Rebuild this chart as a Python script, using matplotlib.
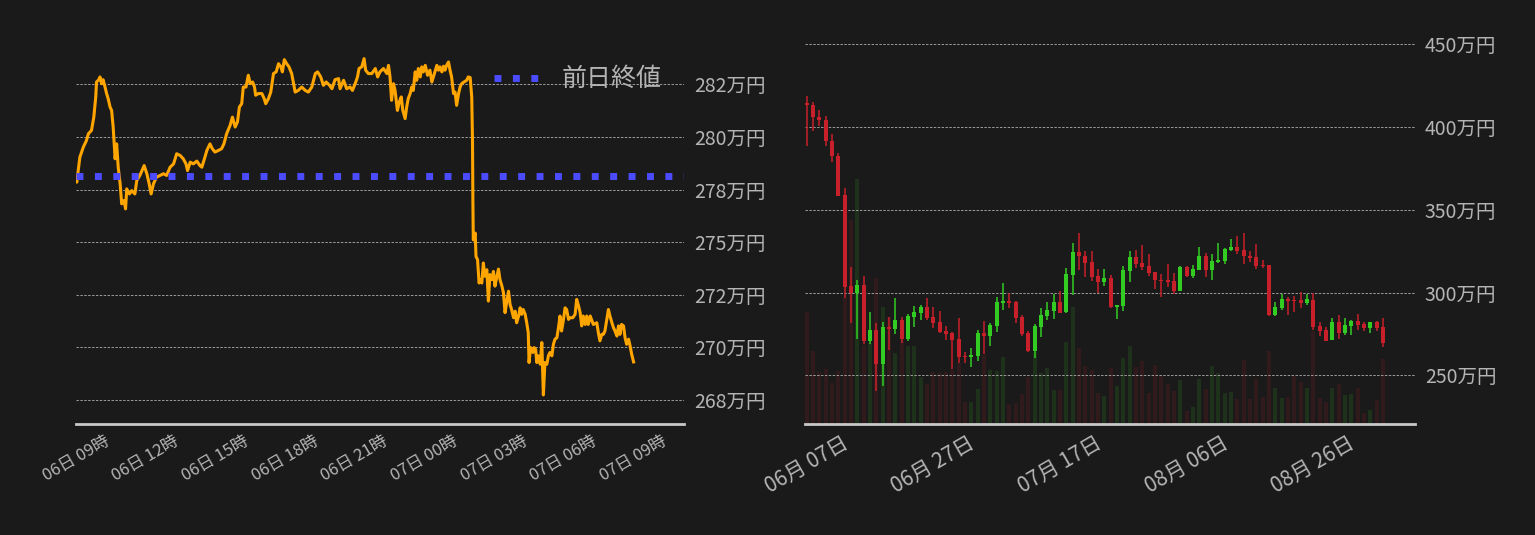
import numpy as np
import pandas as pd
import matplotlib
matplotlib.use("Agg")
import matplotlib.pyplot as plt
import matplotlib.dates as mdates
from matplotlib.ticker import FuncFormatter

plt.rcParams['font.family'] = ['Noto Sans CJK JP', 'DejaVu Sans']

BG = "#1a1a1a"
TXT = "#b4b4b4"
GRID = "#9c9c9c"

# --- 24時間チャート (06日 09時 からの経過分, 万円) ---
minutes = [0, 2, 10, 19, 27, 32, 40, 46, 51, 53, 59, 62, 66, 70, 75, 79, 83, 88, 92, 96,
           101, 105, 109, 114, 118, 124, 128, 131, 138, 144, 152, 157, 165, 176, 183, 189, 194, 200, 208, 217,
           226, 234, 243, 252, 260, 269, 277, 284, 288, 295, 303, 312, 320, 325, 333, 338, 346, 352, 359, 368,
           376, 382, 389, 398, 404, 411, 417, 422, 428, 432, 439, 445, 450, 456, 461, 464, 471, 480, 486, 490,
           497, 503, 510, 517, 523, 529, 533, 538, 544, 550, 557, 562, 566, 574, 583, 592, 600, 609, 618, 624,
           632, 639, 646, 655, 661, 669, 678, 682, 691, 699, 708, 714, 721, 727, 731, 738, 744, 748, 755, 764,
           773, 779, 785, 794, 803, 807, 811, 815, 820, 824, 830, 835, 840, 844, 850, 854, 858, 863, 867, 871,
           876, 880, 884, 889, 893, 897, 902, 908, 914, 919, 923, 927, 932, 936, 940, 945, 949, 953, 957, 962,
           966, 970, 975, 979, 983, 988, 992, 996, 1002, 1009, 1013, 1018, 1022, 1024, 1025, 1026, 1031, 1033, 1037, 1041,
           1044, 1048, 1052, 1056, 1061, 1065, 1069, 1074, 1078, 1082, 1087, 1091, 1095, 1100, 1104, 1108, 1112, 1117, 1121, 1125,
           1130, 1134, 1138, 1143, 1147, 1151, 1155, 1160, 1164, 1168, 1170, 1174, 1180, 1183, 1187, 1190, 1194, 1199, 1203, 1207,
           1211, 1216, 1220, 1224, 1229, 1233, 1237, 1242, 1246, 1250, 1254, 1259, 1263, 1267, 1272, 1276, 1283, 1289, 1293, 1298,
           1302, 1306, 1310, 1315, 1319, 1323, 1328, 1336, 1345, 1349, 1353, 1358, 1362, 1366, 1371, 1375, 1379, 1384, 1388, 1392,
           1397, 1401, 1405, 1409, 1414, 1418, 1422, 1427, 1431, 1435, 1440]
prices = [278.00, 277.85, 279.04, 279.52, 279.83, 280.15, 280.31, 280.94, 281.90, 282.61, 282.72, 282.85, 282.53, 282.72, 282.37, 282.06, 281.82, 281.42, 281.26, 280.47,
          278.96, 279.67, 278.56, 277.77, 276.82, 276.98, 276.58, 277.53, 277.29, 277.45, 277.29, 277.93, 278.17, 278.64, 278.25, 277.77, 277.29, 277.77, 278.09, 278.17,
          278.25, 278.17, 278.56, 278.72, 279.20, 279.12, 278.96, 278.72, 278.40, 278.80, 278.72, 278.85, 278.64, 278.56, 279.04, 279.36, 279.67, 279.44, 279.28, 279.36,
          279.44, 279.67, 280.15, 280.55, 280.94, 280.47, 280.71, 281.42, 281.58, 282.37, 282.37, 282.93, 282.53, 282.61, 282.37, 281.98, 282.06, 282.06, 281.82, 281.58,
          281.82, 282.13, 283.01, 283.09, 283.48, 283.33, 283.09, 283.67, 283.48, 283.33, 283.01, 282.53, 282.13, 282.21, 282.37, 282.21, 282.13, 282.37, 283.01, 283.09,
          282.85, 282.45, 282.61, 282.45, 282.29, 282.72, 282.77, 282.29, 282.69, 282.29, 282.37, 282.21, 282.53, 282.85, 283.25, 283.33, 283.72, 283.17, 283.01, 283.01,
          283.25, 282.85, 283.09, 283.25, 283.01, 283.40, 282.85, 281.74, 282.53, 282.21, 281.26, 281.66, 281.90, 281.26, 280.87, 281.42, 281.82, 282.06, 282.37, 282.21,
          283.09, 282.69, 283.25, 282.85, 283.33, 283.09, 283.40, 282.93, 283.17, 282.61, 282.85, 283.09, 283.40, 283.17, 283.33, 283.09, 283.36, 283.17, 283.40, 283.56,
          283.17, 282.85, 282.06, 282.13, 281.50, 282.06, 282.37, 282.53, 282.61, 282.69, 282.85, 282.82, 281.90, 279.80, 277.00, 275.11, 275.43, 274.32, 274.17, 273.06,
          273.22, 273.06, 274.01, 273.38, 273.69, 272.20, 273.46, 273.22, 273.61, 272.91, 273.38, 273.72, 273.22, 272.91, 272.59, 271.65, 272.12, 272.67, 272.04, 271.80,
          271.41, 271.72, 271.17, 271.49, 271.88, 271.57, 271.80, 271.57, 271.17, 270.70, 269.28, 269.99, 269.76, 269.99, 269.91, 269.28, 269.60, 269.20, 270.23, 267.74,
          269.28, 269.20, 269.60, 269.76, 269.60, 270.15, 270.39, 270.46, 270.94, 271.49, 270.78, 271.33, 271.88, 271.80, 271.33, 271.41, 271.41, 271.57, 272.28, 271.96,
          271.65, 271.02, 271.49, 271.09, 271.49, 271.09, 271.49, 271.09, 271.17, 270.70, 270.31, 270.62, 270.62, 270.78, 271.33, 271.80, 271.49, 271.17, 270.94, 270.78,
          270.54, 271.02, 270.62, 271.09, 271.02, 270.46, 270.15, 270.39, 270.07, 269.68, 269.31]
prev_close = 278.14
start_time = "2022-09-06 09:00"

# --- 日足 (06月07日から, 万円) ---
start_day = "2022-06-07"
opens = [414.5, 413.5, 406.0, 404.4, 391.8, 382.7, 359.2, 303.8, 299.8, 304.4,
         270.7, 277.3, 256.8, 279.3, 277.9, 283.3, 271.9, 285.1, 287.6, 291.2,
         285.1, 282.1, 276.7, 275.5, 271.9, 261.6, 261.0, 261.6, 275.5, 273.7,
         279.7, 293.6, 294.8, 294.2, 285.1, 275.5, 264.7, 279.1, 285.7, 288.8,
         294.2, 288.2, 310.4, 324.3, 321.9, 318.3, 309.8, 306.2, 308.6, 291.2,
         291.8, 312.9, 321.3, 317.7, 315.9, 312.2, 307.4, 307.4, 306.8, 300.8,
         315.3, 309.8, 313.5, 321.9, 313.5, 318.3, 318.9, 325.5, 327.3, 325.5,
         321.9, 321.3, 316.5, 316.5, 286.3, 290.6, 296.0, 295.4, 295.4, 293.6,
         295.4, 279.7, 277.3, 271.3, 282.1, 275.5, 279.7, 282.7, 280.9, 278.5,
         282.1, 279.1]
highs = [418.9, 415.1, 410.4, 406.8, 396.0, 384.5, 362.9, 315.5, 307.4, 309.8,
         288.2, 281.5, 282.1, 285.1, 296.6, 285.1, 286.9, 291.8, 292.4, 296.6,
         291.2, 288.8, 279.7, 276.1, 284.5, 264.1, 266.5, 277.3, 282.7, 281.5,
         297.2, 305.6, 299.6, 294.8, 286.3, 276.7, 280.9, 290.6, 294.2, 299.0,
         300.8, 314.7, 329.7, 336.3, 324.9, 324.9, 314.1, 314.1, 310.4, 292.4,
         315.9, 324.9, 325.5, 328.5, 323.1, 312.2, 311.0, 317.1, 311.6, 315.9,
         315.9, 316.5, 327.3, 323.7, 323.1, 329.7, 326.7, 332.7, 334.5, 336.3,
         324.9, 329.1, 319.5, 316.5, 294.2, 299.0, 297.2, 297.8, 300.2, 299.0,
         299.6, 282.1, 279.1, 284.5, 286.3, 284.5, 283.3, 286.9, 282.1, 282.1,
         282.7, 284.5]
lows = [388.4, 397.4, 400.4, 388.4, 378.7, 358.6, 296.6, 281.5, 271.9, 268.9,
        268.9, 240.6, 243.8, 265.3, 274.9, 269.5, 270.7, 279.1, 283.3, 283.3,
        278.5, 275.5, 271.3, 253.8, 257.4, 257.4, 255.0, 258.6, 262.8, 267.7,
        276.1, 289.4, 290.6, 281.5, 273.7, 264.1, 260.6, 273.1, 283.3, 283.9,
        287.6, 287.6, 298.4, 313.5, 309.2, 306.8, 299.6, 303.8, 290.6, 283.9,
        288.8, 306.2, 314.7, 313.5, 309.8, 302.0, 297.2, 303.2, 299.0, 300.8,
        309.2, 308.6, 313.5, 309.2, 307.4, 317.7, 317.1, 324.9, 323.1, 317.1,
        318.3, 314.1, 314.7, 285.7, 285.7, 289.4, 286.3, 288.2, 290.6, 292.4,
        277.3, 273.7, 270.7, 271.3, 271.9, 274.3, 274.3, 277.3, 276.7, 275.5,
        276.7, 267.1]
closes = [413.1, 405.8, 404.0, 391.4, 382.3, 358.6, 303.4, 299.8, 304.4, 270.7,
          277.3, 256.8, 279.1, 277.9, 283.3, 271.9, 285.7, 288.2, 291.2, 284.5,
          281.5, 276.1, 274.9, 271.5, 261.0, 261.2, 262.2, 275.5, 273.7, 280.3,
          294.2, 294.8, 293.6, 284.5, 274.9, 264.7, 279.7, 286.3, 289.4, 294.2,
          287.6, 311.0, 324.3, 321.9, 317.7, 309.2, 306.2, 308.6, 291.2, 292.4,
          313.5, 321.3, 317.1, 315.3, 311.6, 307.4, 307.0, 306.2, 300.8, 315.3,
          309.8, 314.1, 321.9, 313.5, 318.9, 319.5, 326.1, 327.3, 324.9, 321.9,
          320.7, 315.9, 315.9, 286.3, 291.2, 296.0, 294.8, 295.0, 293.6, 296.0,
          279.1, 276.7, 270.7, 282.1, 275.5, 280.3, 282.7, 280.3, 278.5, 282.1,
          278.5, 269.5]
volumes = [112, 73, 52, 55, 41, 53, 127, 204, 245, 79,
           81, 146, 117, 107, 71, 84, 78, 78, 47, 40,
           52, 51, 52, 54, 61, 22, 22, 35, 69, 54,
           53, 67, 20, 21, 30, 47, 72, 51, 56, 34,
           34, 82, 117, 76, 58, 54, 31, 28, 56, 38,
           66, 78, 57, 63, 31, 59, 49, 40, 33, 44,
           13, 17, 45, 35, 58, 51, 31, 32, 25, 64,
           25, 45, 27, 73, 36, 26, 27, 48, 42, 36,
           93, 26, 22, 36, 40, 29, 30, 36, 11, 14,
           24, 65]

fig = plt.figure(figsize=(15.35, 5.35), dpi=100, facecolor=BG)
ax1 = fig.add_axes([76/1535, 111/535, 608/1535, 394/535])
ax2 = fig.add_axes([805/1535, 111/535, 610/1535, 394/535])


def style(ax):
    ax.set_facecolor(BG)
    for s in ["top", "left", "right"]:
        ax.spines[s].set_visible(False)
    ax.spines["bottom"].set_color("#c8c8c8")
    ax.spines["bottom"].set_linewidth(2)
    ax.yaxis.tick_right()
    ax.tick_params(length=0, colors=TXT)
    ax.grid(axis="y", color=GRID, linestyle=(0, (2.5, 1.5)), linewidth=0.7)
    ax.set_axisbelow(True)


man = FuncFormatter(lambda v, p: f"{v:.0f}万円")

# 左: 24時間
t0 = pd.Timestamp(start_time)
times = t0 + pd.to_timedelta(minutes, unit="min")
style(ax1)
ax1.plot(times, prices, color="#ffa500", lw=2.2, zorder=2)
ax1.axhline(prev_close, color="#4b4bff", ls=":", lw=5, label="前日終値", zorder=3)
ax1.set_xlim(t0, t0 + pd.Timedelta(hours=26.17))
ax1.set_ylim(266.36, 285.08)
ax1.set_yticks(np.arange(267.5, 283, 2.5))
ax1.yaxis.set_major_formatter(man)
ax1.set_xticks(pd.date_range(t0, periods=9, freq="3h"))
ax1.xaxis.set_major_formatter(mdates.DateFormatter("%d日 %H時"))
ax1.tick_params(axis="y", labelsize=14, pad=7)
ax1.tick_params(axis="x", labelsize=12, pad=6, labelrotation=30)
ax1.legend(loc="upper right", bbox_to_anchor=(1.0, 0.965), frameon=False,
           fontsize=18, labelcolor=TXT, handlelength=1.8, handletextpad=0.9)

# 右: 日足
days = pd.date_range(start_day, periods=len(opens), freq="D")
x = mdates.date2num(days)
o = np.array(opens); h = np.array(highs); l = np.array(lows); c = np.array(closes)
up = c >= o
cols = np.where(up, "#33cc22", "#c8202a")
axv = ax2.twinx()
style(ax2)
axv.bar(x, volumes, width=0.65, color=cols, alpha=0.13, linewidth=0)
axv.set_ylim(0, 394)
axv.axis("off")
ax2.set_zorder(axv.get_zorder() + 1)
ax2.patch.set_visible(False)
axv.patch.set_visible(False)

ax2.vlines(x, l, h, colors=cols, lw=1.1)
ax2.bar(x, np.maximum(np.abs(c - o), 0.5), bottom=np.minimum(o, c), width=0.65,
        color=cols, linewidth=0)
ax2.set_xlim(x[0] - 0.27, x[-1] + 5.05)
ax2.set_ylim(220.7, 458.6)
ax2.set_yticks([250, 300, 350, 400, 450])
ax2.yaxis.set_major_formatter(man)
ax2.set_xticks(x[::20])
ax2.xaxis.set_major_formatter(mdates.DateFormatter("%m月 %d日"))
ax2.tick_params(axis="y", labelsize=14, pad=7, labelleft=False, labelright=True)
ax2.tick_params(axis="x", labelsize=15, pad=6, labelrotation=30)

fig.savefig("out.png", dpi=100, facecolor=BG)
